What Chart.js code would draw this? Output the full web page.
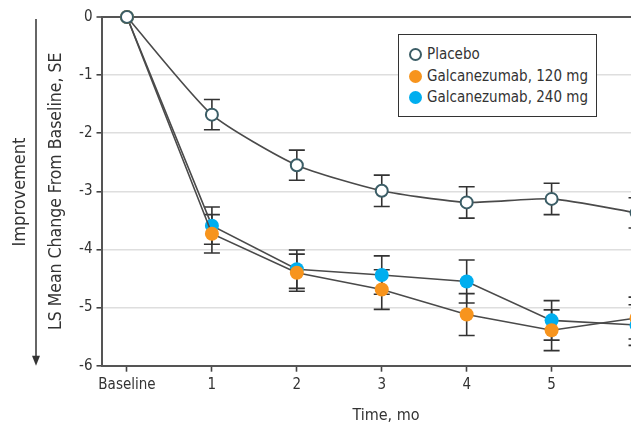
<!DOCTYPE html>
<html lang="en">
<head>
  <meta charset="UTF-8" />
  <title>LS Mean Change From Baseline</title>
  <script src="https://cdn.jsdelivr.net/npm/chart.js"></script>
  <style>
    * { margin: 0; padding: 0; box-sizing: border-box; }
    body { background: #fff; width: 631px; height: 448px; overflow: hidden; position: relative;
      font-family: 'DejaVu Sans Condensed', 'DejaVu Sans', sans-serif; color: #333; }
    #wrap { position: absolute; left: 0; top: 0; width: 700px; height: 448px; }
    .legend { position: absolute; left: 398px; top: 34px; width: 199px; height: 83px;
      border: 1.5px solid #333; background: #fff; padding: 9px 0 0 10px; }
    .legend div { height: 21.5px; line-height: 21px; font-size: 15px; white-space: nowrap; }
    .legend span.dot { display: inline-block; width: 13px; height: 13px; border-radius: 50%;
      margin-right: 5px; vertical-align: -2px; }
  </style>
</head>
<body>
  <div id="wrap"><canvas id="chart" width="700" height="448"></canvas></div>
  <div class="legend" id="legend"></div>

  <script>
    // values
    const months = [0, 1, 2, 3, 4, 5, 6];
    const xTickLabels = ['Baseline', '1', '2', '3', '4', '5', '6'];
    const yTicks = [0, -1, -2, -3, -4, -5, -6];
    const seriesNames = ['Placebo', 'Galcanezumab, 120 mg', 'Galcanezumab, 240 mg'];
    const placebo = [0, -1.68, -2.55, -2.99, -3.19, -3.13, -3.37];
    const placeboSE = [0, 0.26, 0.26, 0.27, 0.27, 0.27, 0.26];
    const galc120 = [0, -3.73, -4.40, -4.69, -5.12, -5.39, -5.18];
    const galc120SE = [0, 0.33, 0.32, 0.34, 0.36, 0.35, 0.36];
    const galc240 = [0, -3.59, -4.34, -4.44, -4.55, -5.22, -5.30];
    const galc240SE = [0, 0.32, 0.33, 0.33, 0.37, 0.34, 0.35];

    const FONT = "'DejaVu Sans Condensed', 'DejaVu Sans', sans-serif";
    const TEXT = '#333';

    function pts(vals, se) {
      return months.map((m, i) => ({ x: m, y: vals[i], se: se[i] }));
    }

    // legend built from the series names
    const markerStyles = [
      { background: '#fff', border: '2px solid #3b5d66' },
      { background: '#f7941d', border: 'none' },
      { background: '#00aeef', border: 'none' }
    ];
    document.getElementById('legend').innerHTML = seriesNames.map((n, i) =>
      `<div><span class="dot" style="background:${markerStyles[i].background};border:${markerStyles[i].border}"></span>${n}</div>`
    ).join('');

    // SE whiskers, drawn through the chart scales
    const errorBars = {
      id: 'errorBars',
      beforeDatasetsDraw(chart) {
        const { ctx, scales: { x, y } } = chart;
        ctx.save();
        ctx.strokeStyle = '#333';
        ctx.lineWidth = 1.6;
        chart.data.datasets.forEach(ds => {
          ds.data.forEach(p => {
            if (!p.se) return;
            const px = x.getPixelForValue(p.x);
            const top = y.getPixelForValue(p.y + p.se);
            const bot = y.getPixelForValue(p.y - p.se);
            ctx.beginPath();
            ctx.moveTo(px, top); ctx.lineTo(px, bot);
            ctx.moveTo(px - 8, top); ctx.lineTo(px + 8, top);
            ctx.moveTo(px - 8, bot); ctx.lineTo(px + 8, bot);
            ctx.stroke();
          });
        });
        ctx.restore();
      }
    };

    // "Improvement" label with downward arrow at the far left
    const improvement = {
      id: 'improvement',
      afterDraw(chart) {
        const { ctx, chartArea } = chart;
        ctx.save();
        ctx.strokeStyle = TEXT;
        ctx.fillStyle = TEXT;
        ctx.lineWidth = 1.5;
        ctx.beginPath();
        ctx.moveTo(36, chartArea.top + 2);
        ctx.lineTo(36, chartArea.bottom - 6);
        ctx.stroke();
        ctx.beginPath();
        ctx.moveTo(32, chartArea.bottom - 10);
        ctx.lineTo(40, chartArea.bottom - 10);
        ctx.lineTo(36, chartArea.bottom);
        ctx.closePath();
        ctx.fill();
        ctx.translate(20, 192);
        ctx.rotate(-Math.PI / 2);
        ctx.font = '18px ' + FONT;
        ctx.textAlign = 'center';
        ctx.textBaseline = 'middle';
        ctx.fillText('Improvement', 0, 0);
        ctx.restore();
      }
    };

    const lineColor = '#4a4a4a';

    new Chart(document.getElementById('chart').getContext('2d'), {
      type: 'line',
      data: {
        datasets: [
          {
            label: seriesNames[0],
            data: pts(placebo, placeboSE),
            borderColor: lineColor,
            borderWidth: 1.6,
            pointRadius: 6,
            pointBorderWidth: 2,
            pointBackgroundColor: '#fff',
            pointBorderColor: '#3b5d66',
            tension: 0.2,
            clip: false,
            order: 0
          },
          {
            label: seriesNames[1],
            data: pts(galc120, galc120SE),
            borderColor: lineColor,
            borderWidth: 1.6,
            pointRadius: 7,
            pointBorderWidth: 0,
            pointBackgroundColor: '#f7941d',
            pointBorderColor: '#f7941d',
            tension: 0,
            clip: false,
            order: 1
          },
          {
            label: seriesNames[2],
            data: pts(galc240, galc240SE),
            borderColor: lineColor,
            borderWidth: 1.6,
            pointRadius: 7,
            pointBorderWidth: 0,
            pointBackgroundColor: '#00aeef',
            pointBorderColor: '#00aeef',
            tension: 0,
            clip: false,
            order: 2
          }
        ]
      },
      options: {
        responsive: false,
        animation: false,
        layout: { padding: { top: 17, right: 29.5, left: 0, bottom: 0 } },
        plugins: {
          legend: { display: false },
          tooltip: { enabled: false }
        },
        scales: {
          x: {
            type: 'linear',
            min: -0.3,
            max: 6.4,
            afterFit(s) { s.height = 82.3; },
            afterBuildTicks(s) { s.ticks = months.map(v => ({ value: v })); },
            ticks: {
              color: TEXT,
              font: { family: FONT, size: 15 },
              padding: 4,
              maxRotation: 0,
              callback: v => xTickLabels[months.indexOf(v)]
            },
            grid: { drawOnChartArea: false, tickLength: 6, tickColor: '#444', tickWidth: 1.6 },
            border: { color: '#555', width: 2 },
            title: {
              display: true,
              text: 'Time, mo',
              color: TEXT,
              font: { family: FONT, size: 16 },
              padding: { top: 0, bottom: 23 }
            }
          },
          y: {
            min: -6,
            max: 0,
            afterFit(s) { s.width = 101.5; },
            afterBuildTicks(s) { s.ticks = yTicks.map(v => ({ value: v })); },
            ticks: {
              color: TEXT,
              font: { family: FONT, size: 15 },
              padding: 4
            },
            grid: {
              color: c => c.tick && c.tick.value === 0 ? '#555' : '#dedede',
              lineWidth: c => c.tick && c.tick.value === 0 ? 2 : 1.6,
              tickLength: 5,
              tickColor: '#444',
              tickWidth: 1.6
            },
            border: { color: '#555', width: 2 },
            title: {
              display: true,
              text: 'LS Mean Change From Baseline, SE',
              color: TEXT,
              font: { family: FONT, size: 17.5 },
              padding: { top: 46, bottom: 0 }
            }
          }
        }
      },
      plugins: [errorBars, improvement]
    });
  </script>
</body>
</html>
